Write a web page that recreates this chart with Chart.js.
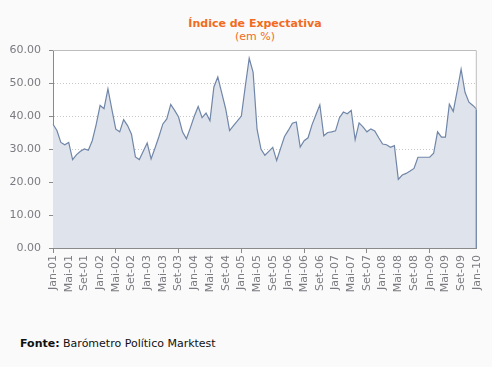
<!DOCTYPE html>
<html>
<head>
<meta charset="utf-8">
<script src="https://cdn.jsdelivr.net/npm/chart.js@4"></script>
<style>
  html, body { margin: 0; padding: 0; background: #fafafa; }
  #wrap { position: relative; width: 492px; height: 367px; overflow: hidden; }
  #chart { position: absolute; left: 0; top: 0; }
  .ttl { position: absolute; left: 105px; width: 300px; text-align: center; font: 11px/13px 'DejaVu Sans', sans-serif; color: #f26b21; white-space: nowrap; }
  #t1 { top: 17px; font-weight: bold; }
  #t2 { top: 30px; }
  #fonte { position: absolute; left: 20px; top: 337px; font: 11px/13px 'DejaVu Sans', sans-serif; color: #111; white-space: nowrap; }
</style>
</head>
<body>
<div id="wrap">
  <div class="ttl" id="t1">Índice de Expectativa</div>
  <div class="ttl" id="t2">(em %)</div>
  <canvas id="chart" width="492" height="310"></canvas>
  <div id="fonte"><b>Fonte:</b> Barómetro Político Marktest</div>
</div>
<script>
// month names / years used for the category labels
const monthNames = ["Jan", "Fev", "Mar", "Abr", "Mai", "Jun", "Jul", "Ago", "Set", "Out", "Nov", "Dez"];
const years = ["01", "02", "03", "04", "05", "06", "07", "08", "09", "10"];

// Indice de Expectativa (em %), one array per year
const v2001 = [37.5, 35.6, 32.0, 31.3, 32.0, 26.8, 28.3, 29.3, 30.0, 29.6, 32.5, 37.4];
const v2002 = [43.2, 42.2, 48.2, 42.0, 36.0, 35.2, 38.9, 37.1, 34.5, 27.6, 26.8, 29.3];
const v2003 = [31.8, 27.0, 30.3, 33.8, 37.6, 39.1, 43.5, 41.7, 39.7, 35.2, 33.1, 36.4];
const v2004 = [39.9, 42.9, 39.5, 40.9, 38.6, 48.8, 51.8, 47.0, 42.2, 35.6, 37.1, 38.5];
const v2005 = [40.0, 49.0, 57.5, 53.2, 36.0, 30.0, 28.1, 29.3, 30.5, 26.5, 30.2, 33.8];
const v2006 = [35.7, 37.8, 38.2, 30.6, 32.5, 33.4, 37.3, 40.4, 43.4, 34.0, 35.0, 35.2];
const v2007 = [35.5, 39.5, 41.2, 40.7, 41.7, 32.8, 37.9, 36.7, 35.2, 36.1, 35.5, 33.4];
const v2008 = [31.5, 31.3, 30.5, 31.0, 20.8, 22.1, 22.6, 23.3, 24.1, 27.5, 27.5, 27.5];
const v2009 = [27.5, 28.7, 35.2, 33.6, 33.6, 43.6, 41.4, 47.6, 54.2, 47.2, 44.2, 43.2];
const v2010 = [42.0];

const values = [].concat(v2001, v2002, v2003, v2004, v2005, v2006, v2007, v2008, v2009, v2010);
const labels = [];
years.forEach(function (y) {
    monthNames.forEach(function (m) { labels.push(m + "-" + y); });
});
labels.length = values.length;

const labelStep = 4;
const lineColor = "#7086a8";
const axisColor = "#8a8a8a";
const textColor = "#7a7a80";

// white plot area, grey frame on top/right, closing edge of the area
const plotFrame = {
    id: "plotFrame",
    beforeDraw(chart) {
        const a = chart.chartArea;
        const ctx = chart.ctx;
        ctx.save();
        ctx.fillStyle = "#ffffff";
        ctx.fillRect(a.left, a.top, a.right - a.left, a.bottom - a.top);
        ctx.restore();
    },
    afterDatasetsDraw(chart) {
        const a = chart.chartArea;
        const ctx = chart.ctx;
        ctx.save();
        ctx.strokeStyle = "#bdbdbd";
        ctx.lineWidth = 1;
        ctx.beginPath();
        ctx.moveTo(a.left, a.top + 0.5);
        ctx.lineTo(a.right - 0.5, a.top + 0.5);
        ctx.lineTo(a.right - 0.5, a.bottom);
        ctx.stroke();
        const pts = chart.getDatasetMeta(0).data;
        const last = pts[pts.length - 1];
        ctx.strokeStyle = lineColor;
        ctx.lineWidth = 1.2;
        ctx.beginPath();
        ctx.moveTo(last.x - 0.5, last.y);
        ctx.lineTo(last.x - 0.5, a.bottom);
        ctx.stroke();
        ctx.restore();
    }
};

const ctx = document.getElementById("chart").getContext("2d");
const chart = new Chart(ctx, {
    type: "line",
    data: {
        labels: labels,
        datasets: [{
            label: "Índice de Expectativa",
            data: values,
            borderColor: lineColor,
            borderWidth: 1.2,
            backgroundColor: "#dfe3eb",
            fill: "origin",
            tension: 0,
            pointRadius: 0
        }]
    },
    options: {
        responsive: false,
        animation: false,
        devicePixelRatio: 1,
        layout: { padding: { left: 0, right: 10, top: 50, bottom: 0 } },
        plugins: {
            legend: { display: false },
            tooltip: { enabled: false },
            title: { display: false }
        },
        scales: {
            x: {
                afterFit: function (scale) { scale.height = 62; },
                grid: {
                    drawOnChartArea: false,
                    tickLength: 5,
                    tickColor: function (c) { return c.index % labelStep === 0 ? axisColor : "rgba(0,0,0,0)"; }
                },
                border: { color: axisColor, width: 1 },
                ticks: {
                    autoSkip: false,
                    minRotation: 90,
                    maxRotation: 90,
                    padding: 2,
                    color: textColor,
                    font: { family: "'DejaVu Sans', sans-serif", size: 11 },
                    callback: function (val, i) { return i % labelStep === 0 ? this.getLabelForValue(val) : null; }
                }
            },
            y: {
                min: 0,
                max: 60,
                afterFit: function (scale) { scale.width = 53; },
                grid: {
                    color: "#c8c8c8",
                    tickColor: axisColor,
                    tickLength: 4,
                    lineWidth: 1
                },
                border: { color: axisColor, width: 1, dash: [1, 2] },
                ticks: {
                    stepSize: 10,
                    padding: 8,
                    color: textColor,
                    font: { family: "'DejaVu Sans', sans-serif", size: 11 },
                    callback: function (v) { return v.toFixed(2); }
                }
            }
        }
    },
    plugins: [plotFrame]
});
</script>
</body>
</html>
